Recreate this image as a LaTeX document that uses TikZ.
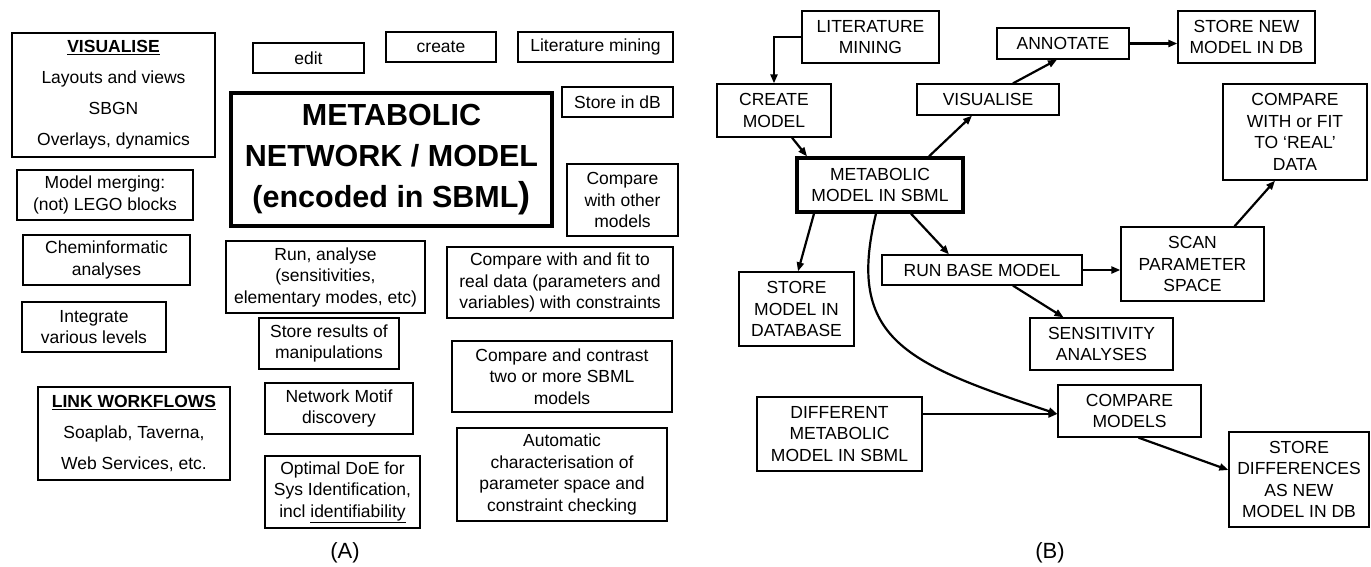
\documentclass[tikz,border=0pt]{standalone}
\usepackage{fontspec}
\setmainfont{Liberation Sans}
\usetikzlibrary{arrows.meta}
\begin{document}
\begin{tikzpicture}[x=1pt,y=-1pt,
  bx/.style={draw, line width=1.3pt, align=center, inner sep=0pt, font=\fontsize{17.5}{21.5}\selectfont},
  wide/.style={font=\fontsize{17.5}{31}\selectfont},
  thickbx/.style={line width=3.3pt},
  arr/.style={line width=2.2pt, -{Triangle[length=9pt,width=7pt]}},
  lbl/.style={font=\fontsize{22}{26}\selectfont, inner sep=0pt}
]
\useasboundingbox (0,0) rectangle (1371,566);
% ---------------- Panel A ----------------
\node[bx, wide, minimum width=203pt, minimum height=124pt] (vis) at (113.5,95)
  {\underline{\textbf{VISUALISE}}\\Layouts and views\\SBGN\\Overlays, dynamics};
\node[bx, minimum width=176pt, minimum height=50pt] (merge) at (105,195) {Model merging:\\(not) LEGO blocks};
\node[bx, minimum width=167pt, minimum height=50pt] (chem) at (106.5,260) {Cheminformatic\\analyses};
\node[bx, minimum width=144pt, minimum height=50pt] (integ) at (94,327) {Integrate\\various levels};
\node[bx, wide, minimum width=192pt, minimum height=93pt] (link) at (134,433.5)
  {\underline{\textbf{LINK WORKFLOWS}}\\Soaplab, Taverna,\\Web Services, etc.};
\node[bx, minimum width=111pt, minimum height=30pt] (edit) at (308.5,58) {edit};
\node[bx, minimum width=110pt, minimum height=30pt] (create) at (441,47) {create};
\node[bx, minimum width=155pt, minimum height=30pt] (litA) at (595.5,47) {Literature mining};
\node[bx, minimum width=111pt, minimum height=30pt] (storedB) at (617.5,102) {Store in dB};
\node[bx, thickbx, minimum width=321pt, minimum height=133pt, font=\fontsize{30.5}{41}\selectfont\bfseries] (mainA) at (391.5,159.5)
  {METABOLIC\\NETWORK / MODEL\\(encoded in SBML{\fontsize{36}{41}\selectfont)}};
\node[bx, minimum width=111pt, minimum height=72pt] (cmpother) at (622.5,200) {Compare\\with other\\models};
\node[bx, minimum width=199pt, minimum height=72pt] (runA) at (325.5,277) {Run, analyse\\(sensitivities,\\elementary modes, etc)};
\node[bx, minimum width=226pt, minimum height=71pt] (cmpfitA) at (560,282.5) {Compare with and fit to\\real data (parameters and\\variables) with constraints};
\node[bx, minimum width=140pt, minimum height=51pt] (storeres) at (329,343.5) {Store results of\\manipulations};
\node[bx, minimum width=148pt, minimum height=51pt] (motif) at (339,408.5) {Network Motif\\discovery};
\node[bx, minimum width=155pt, minimum height=72pt] (doe) at (342.5,492) {Optimal DoE for\\Sys Identification,\\incl \underline{identifiability}};
\node[bx, minimum width=220pt, minimum height=71pt] (cmpcontr) at (562,376.5) {Compare and contrast\\two or more SBML\\models};
\node[bx, minimum width=210pt, minimum height=93pt] (auto) at (562,474.5) {Automatic\\characterisation of\\parameter space and\\constraint checking};
\node[lbl] (labA) at (345,553) {(A)};
% ---------------- Panel B ----------------
\node[bx, minimum width=137pt, minimum height=52pt] (lit) at (870.5,37) {LITERATURE\\MINING};
\node[bx, minimum width=114pt, minimum height=53pt] (createM) at (774,110.5) {CREATE\\MODEL};
\node[bx, minimum width=142pt, minimum height=31pt] (visR) at (988,99.5) {VISUALISE};
\node[bx, minimum width=132pt, minimum height=31pt] (annot) at (1063,43.5) {ANNOTATE};
\node[bx, minimum width=137pt, minimum height=52pt] (storenew) at (1246.5,37) {STORE NEW\\MODEL IN DB};
\node[bx, thickbx, minimum width=166pt, minimum height=54pt] (met) at (880,185) {METABOLIC\\MODEL IN SBML};
\node[bx, minimum width=144pt, minimum height=96pt] (cmpfitR) at (1295,132) {COMPARE\\WITH or FIT\\TO ‘REAL’\\DATA};
\node[bx, minimum width=115pt, minimum height=74pt] (storedb) at (796.5,309) {STORE\\MODEL IN\\DATABASE};
\node[bx, minimum width=200pt, minimum height=30pt] (run) at (982,270) {RUN BASE MODEL};
\node[bx, minimum width=143pt, minimum height=74pt] (scan) at (1192.5,264) {SCAN\\PARAMETER\\SPACE};
\node[bx, minimum width=143pt, minimum height=52pt] (sens) at (1101.5,344) {SENSITIVITY\\ANALYSES};
\node[bx, minimum width=165pt, minimum height=74pt] (diff) at (839.5,434) {DIFFERENT\\METABOLIC\\MODEL IN SBML};
\node[bx, minimum width=143pt, minimum height=52pt] (cmpM) at (1129.5,411) {COMPARE\\MODELS};
\node[bx, minimum width=140pt, minimum height=95pt] (storediff) at (1299,479.5) {STORE\\DIFFERENCES\\AS NEW\\MODEL IN DB};
\node[lbl] (labB) at (1050,553) {(B)};
% connectors
\draw[arr] (lit.west) -| (createM.north);
\draw[arr] ([xshift=18pt]createM.south) -- ([xshift=-73pt]met.north);
\draw[arr] ([xshift=49pt]met.north) -- ([xshift=-16pt]visR.south);
\draw[arr] ([xshift=25pt]visR.north) -- ([xshift=-6pt]annot.south);
\draw[arr] (annot.east) -- (annot.east -| storenew.west);
\draw[arr] ([xshift=-66pt]met.south) -- ([xshift=1.5pt]storedb.north);
\draw[arr] ([xshift=31pt]met.south) -- ([xshift=-33pt]run.north);
\draw[arr] (run.east) -- (run.east -| scan.west);
\draw[arr] ([xshift=42pt]scan.north) -- ([xshift=-20pt]cmpfitR.south);
\draw[arr] ([xshift=31pt]run.south) -- ([xshift=-38pt]sens.north);
\coordinate (cin) at ([yshift=-3pt]cmpM.west);
\draw[arr] (cin -| diff.east) -- (cin);
\draw[arr] ([xshift=-4pt]met.south) .. controls (845,340) and (908,364) .. (cin);
\draw[arr] ([xshift=9pt]cmpM.south) -- ([yshift=9.5pt]storediff.west);
\end{tikzpicture}
\end{document}
